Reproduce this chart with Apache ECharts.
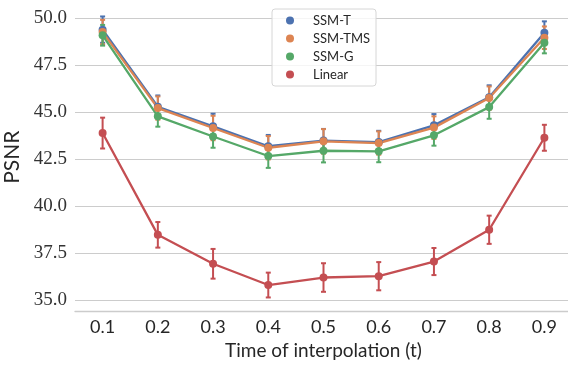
<!DOCTYPE html>
<html>
<head>
<meta charset="utf-8">
<script src="https://cdn.jsdelivr.net/npm/echarts@6/dist/echarts.min.js"></script>
</head>
<body style="margin:0;background:#fff">
<div id="chart" style="width:568px;height:368px"></div>
<script>
var times = ['0.1', '0.2', '0.3', '0.4', '0.5', '0.6', '0.7', '0.8', '0.9'];
var yTicks = [35, 37.5, 40, 42.5, 45, 47.5, 50];

var ssmT      = [49.40, 45.30, 44.26, 43.20, 43.50, 43.42, 44.31, 45.81, 49.24];
var ssmTErr   = [0.70, 0.60, 0.67, 0.60, 0.62, 0.60, 0.60, 0.63, 0.60];
var ssmTMS    = [49.27, 45.23, 44.17, 43.12, 43.46, 43.37, 44.19, 45.76, 48.97];
var ssmTMSErr = [0.65, 0.62, 0.65, 0.62, 0.65, 0.62, 0.60, 0.62, 0.60];
var ssmG      = [49.10, 44.79, 43.72, 42.68, 42.96, 42.93, 43.78, 45.28, 48.70];
var ssmGErr   = [0.55, 0.55, 0.60, 0.63, 0.62, 0.58, 0.55, 0.62, 0.56];
var linear    = [43.90, 38.49, 36.95, 35.82, 36.22, 36.29, 37.07, 38.76, 43.65];
var linearErr = [0.82, 0.68, 0.79, 0.66, 0.76, 0.75, 0.72, 0.75, 0.69];

var colors = ['#4C72B0', '#DD8452', '#55A868', '#C44E52'];

function errData(mean, err) {
  return mean.map(function (m, i) { return [i, m - err[i], m + err[i]]; });
}

// error bar with caps
function renderErr(params, api) {
  var x = api.value(0);
  var top = api.coord([x, api.value(2)]);
  var bot = api.coord([x, api.value(1)]);
  var st = { stroke: api.visual('color'), lineWidth: 2 };
  var w = 2.5;
  return {
    type: 'group',
    children: [
      { type: 'line', shape: { x1: top[0], y1: top[1], x2: bot[0], y2: bot[1] }, style: st },
      { type: 'line', shape: { x1: top[0] - w, y1: top[1], x2: top[0] + w, y2: top[1] }, style: st },
      { type: 'line', shape: { x1: bot[0] - w, y1: bot[1], x2: bot[0] + w, y2: bot[1] }, style: st }
    ]
  };
}

function lineSeries(name, data, color) {
  return {
    name: name,
    type: 'line',
    data: data,
    symbol: 'circle',
    symbolSize: 8,
    itemStyle: { color: color },
    lineStyle: { color: color, width: 2.3 },
    emphasis: { disabled: true }
  };
}

function errSeries(name, mean, err, color) {
  return {
    name: name + '_err',
    type: 'custom',
    renderItem: renderErr,
    data: errData(mean, err),
    encode: { x: 0, y: [1, 2] },
    itemStyle: { color: color }
  };
}

// dot on the left of a 22x8 icon box, so the text sits further right
var dotIcon = 'path://M0,4A4,4,0,1,0,8,4A4,4,0,1,0,0,4ZM22,4L22,4';

var chart = echarts.init(document.getElementById('chart'));
chart.setOption({
  animation: false,
  textStyle: { fontFamily: 'Liberation Serif' },
  grid: { left: 75, right: -4, top: 3.3, bottom: 57, outerBoundsMode: 'none' },
  legend: {
    data: ['SSM-T', 'SSM-TMS', 'SSM-G', 'Linear'],
    orient: 'vertical',
    left: 272,
    top: 9,
    icon: dotIcon,
    itemWidth: 22,
    itemHeight: 8,
    itemGap: 5,
    padding: [5, 6, 5, 14],
    borderWidth: 1,
    borderColor: '#d6d6d6',
    borderRadius: 3,
    backgroundColor: 'rgba(255,255,255,0.8)',
    textStyle: { fontFamily: 'Lato', fontSize: 13, color: '#262626' }
  },
  xAxis: {
    type: 'category',
    data: times,
    name: 'Time of interpolation (t)',
    nameLocation: 'middle',
    nameGap: 30,
    nameTextStyle: { fontFamily: 'Lato', fontSize: 19, color: '#262626' },
    axisLine: { lineStyle: { color: '#cccccc', width: 1.3 } },
    axisTick: { show: false },
    axisLabel: { fontFamily: 'Lato', fontSize: 18, color: '#262626', margin: 7 }
  },
  yAxis: {
    type: 'value',
    min: 34.44,
    max: 50.8,
    name: 'PSNR',
    nameLocation: 'middle',
    nameGap: 52,
    nameTextStyle: { fontFamily: 'Lato', fontSize: 21, color: '#262626' },
    axisLine: { show: false },
    axisTick: { show: false, customValues: yTicks },
    axisLabel: {
      customValues: yTicks,
      fontFamily: 'Liberation Serif',
      fontSize: 19,
      color: '#333333',
      margin: 8,
      formatter: function (v) { return v.toFixed(1); }
    },
    splitLine: { show: true, lineStyle: { color: '#cccccc', width: 1 } }
  },
  series: [
    errSeries('SSM-T', ssmT, ssmTErr, colors[0]),
    lineSeries('SSM-T', ssmT, colors[0]),
    errSeries('SSM-TMS', ssmTMS, ssmTMSErr, colors[1]),
    lineSeries('SSM-TMS', ssmTMS, colors[1]),
    errSeries('SSM-G', ssmG, ssmGErr, colors[2]),
    lineSeries('SSM-G', ssmG, colors[2]),
    errSeries('Linear', linear, linearErr, colors[3]),
    lineSeries('Linear', linear, colors[3])
  ]
});
</script>
</body>
</html>
